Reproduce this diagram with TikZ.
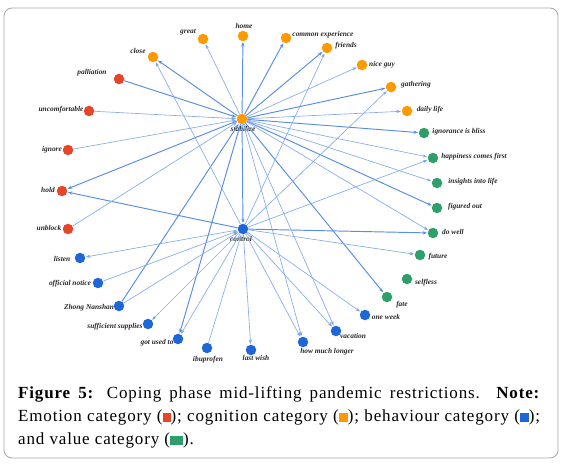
\documentclass[tikz,border=0pt]{standalone}
\usepackage{fontspec}
\setmainfont{Liberation Serif}
\usetikzlibrary{arrows.meta}

\definecolor{emo}{RGB}{232,69,40}
\definecolor{cog}{RGB}{255,153,0}
\definecolor{beh}{RGB}{31,102,217}
\definecolor{val}{RGB}{46,158,107}
\definecolor{linkc}{RGB}{88,140,232}
\newcommand{\swatch}[2]{\textcolor{#1}{\rule[-0.5pt]{#2}{8.5pt}}}

\begin{document}
\begin{tikzpicture}[x=1pt,y=-1pt,>={Stealth[length=4.5pt,width=3.2pt]},
                    vnode/.style={circle,fill=#1,minimum size=10.5pt,inner sep=0pt},
                    lbl/.style={font=\fontsize{7.4}{8}\selectfont\bfseries\itshape,text=black!85,
                                inner sep=0pt,text height=4.5pt,text depth=1.5pt},
                    strong/.style={->,draw=linkc,line width=0.95pt,shorten >=0.5pt},
                    weak/.style={->,draw=linkc!75,line width=0.65pt,shorten >=0.5pt}]

  \useasboundingbox (0,0) rectangle (561,463);
  \draw[rounded corners=8pt,draw=black!35,line width=0.8pt] (4,8) rectangle (558,458);

  % hubs
  \node[vnode=cog] (stab) at (242,119) {};
  \node[vnode=beh] (ctrl) at (243,229) {};

  % cognition
  \node[vnode=cog] (great) at (203,39) {};
  \node[vnode=cog] (home) at (243,36) {};
  \node[vnode=cog] (commexp) at (286,38) {};
  \node[vnode=cog] (friends) at (327,48) {};
  \node[vnode=cog] (niceguy) at (362,65) {};
  \node[vnode=cog] (gather) at (391,87) {};
  \node[vnode=cog] (daily) at (407,111) {};
  \node[vnode=cog] (close) at (153,57) {};

  % emotion
  \node[vnode=emo] (pall) at (119,79) {};
  \node[vnode=emo] (uncomf) at (89,111) {};
  \node[vnode=emo] (ignore) at (68,150) {};
  \node[vnode=emo] (hold) at (62,191) {};
  \node[vnode=emo] (unblock) at (68,229) {};

  % value
  \node[vnode=val] (bliss) at (424,133) {};
  \node[vnode=val] (happy) at (433,158) {};
  \node[vnode=val] (insight) at (437,183) {};
  \node[vnode=val] (figured) at (437,208) {};
  \node[vnode=val] (dowell) at (433,233) {};
  \node[vnode=val] (future) at (420,255) {};
  \node[vnode=val] (selfless) at (407,279) {};
  \node[vnode=val] (fate) at (387,297) {};

  % behaviour
  \node[vnode=beh] (listen) at (80,258) {};
  \node[vnode=beh] (notice) at (98,283) {};
  \node[vnode=beh] (zhong) at (119,306) {};
  \node[vnode=beh] (supply) at (148,324) {};
  \node[vnode=beh] (usedto) at (178,339) {};
  \node[vnode=beh] (ibu) at (207,348) {};
  \node[vnode=beh] (lastwish) at (251,350) {};
  \node[vnode=beh] (longer) at (303,342) {};
  \node[vnode=beh] (vacation) at (336,331) {};
  \node[vnode=beh] (week) at (365,315) {};

  % labels
  \node[lbl] (stab-t) at (243,130) {stabilize};
  \node[lbl] (ctrl-t) at (241,240) {control};
  \node[lbl] (great-t) at (188,32) {great};
  \node[lbl] (home-t) at (244,27) {home};
  \node[lbl] (commexp-t) at (323,35) {common experience};
  \node[lbl] (friends-t) at (346,46) {friends};
  \node[lbl] (niceguy-t) at (382,65) {nice guy};
  \node[lbl] (gather-t) at (416,85) {gathering};
  \node[lbl] (daily-t) at (430,110) {daily life};
  \node[lbl] (close-t) at (138,52) {close};
  \node[lbl] (pall-t) at (92,73) {palliation};
  \node[lbl] (uncomf-t) at (61,110) {uncomfortable};
  \node[lbl] (ignore-t) at (52,150) {ignore};
  \node[lbl] (hold-t) at (48,191) {hold};
  \node[lbl] (unblock-t) at (49,229) {unblock};
  \node[lbl] (bliss-t) at (459,132) {ignorance is bliss};
  \node[lbl] (happy-t) at (474,157) {happiness comes first};
  \node[lbl] (insight-t) at (473,182) {insights into life};
  \node[lbl] (figured-t) at (465,207) {figured out};
  \node[lbl] (dowell-t) at (453,233) {do well};
  \node[lbl] (future-t) at (438,257) {future};
  \node[lbl] (selfless-t) at (426,283) {selfless};
  \node[lbl] (fate-t) at (402,305) {fate};
  \node[lbl] (week-t) at (386,318) {one week};
  \node[lbl] (vacation-t) at (353,337) {vacation};
  \node[lbl] (longer-t) at (327,352) {how much longer};
  \node[lbl] (listen-t) at (62,260) {listen};
  \node[lbl] (notice-t) at (70,284) {official notice};
  \node[lbl] (zhong-t) at (89,308) {Zhong Nanshan};
  \node[lbl] (supply-t) at (115,327) {sufficient supplies};
  \node[lbl] (usedto-t) at (157,343) {got used to};
  \node[lbl] (ibu-t) at (208,360) {ibuprofen};
  \node[lbl] (lastwish-t) at (256,359) {last wish};

  \path[strong]
    (stab) edge (close)
           edge (hold)
           edge (home)
           edge (commexp)
           edge (friends)
           edge (gather)
           edge (bliss)
           edge (figured)
           edge (fate)
           edge (ctrl)
           edge (usedto)
    (zhong) edge (stab)
    (pall) edge (stab)
    (ctrl) edge (hold)
           edge (dowell);

  \path[weak]
    (stab) edge (great)
           edge (niceguy)
           edge (daily)
           edge (happy)
           edge (insight)
           edge (dowell)
           edge (vacation)
           edge (longer)
    (uncomf) edge (stab)
    (ignore) edge (stab)
    (unblock) edge (stab)
    (ctrl) edge (close)
           edge (friends)
           edge (gather)
           edge (happy)
           edge (future)
           edge (week)
           edge (vacation)
           edge (longer)
           edge (lastwish)
           edge (usedto)
           edge (supply)
           edge (listen)
    (notice) edge (ctrl)
    (zhong) edge (ctrl)
    (ibu) edge (ctrl);

  % caption
  \node[anchor=north west,text width=522pt,align=justify,inner sep=0pt,
        font=\fontsize{17}{23}\selectfont\addfontfeatures{LetterSpace=5}] (caption) at (18,386)
    {\textbf{Figure 5:} Coping phase mid-lifting pandemic restrictions. \textbf{Note:}\linebreak
     Emotion category (\swatch{emo}{8pt}); cognition category (\swatch{cog}{9pt}); behaviour category (\swatch{beh}{9pt});\linebreak
     and value category (\swatch{val}{13pt}).};

\end{tikzpicture}
\end{document}
